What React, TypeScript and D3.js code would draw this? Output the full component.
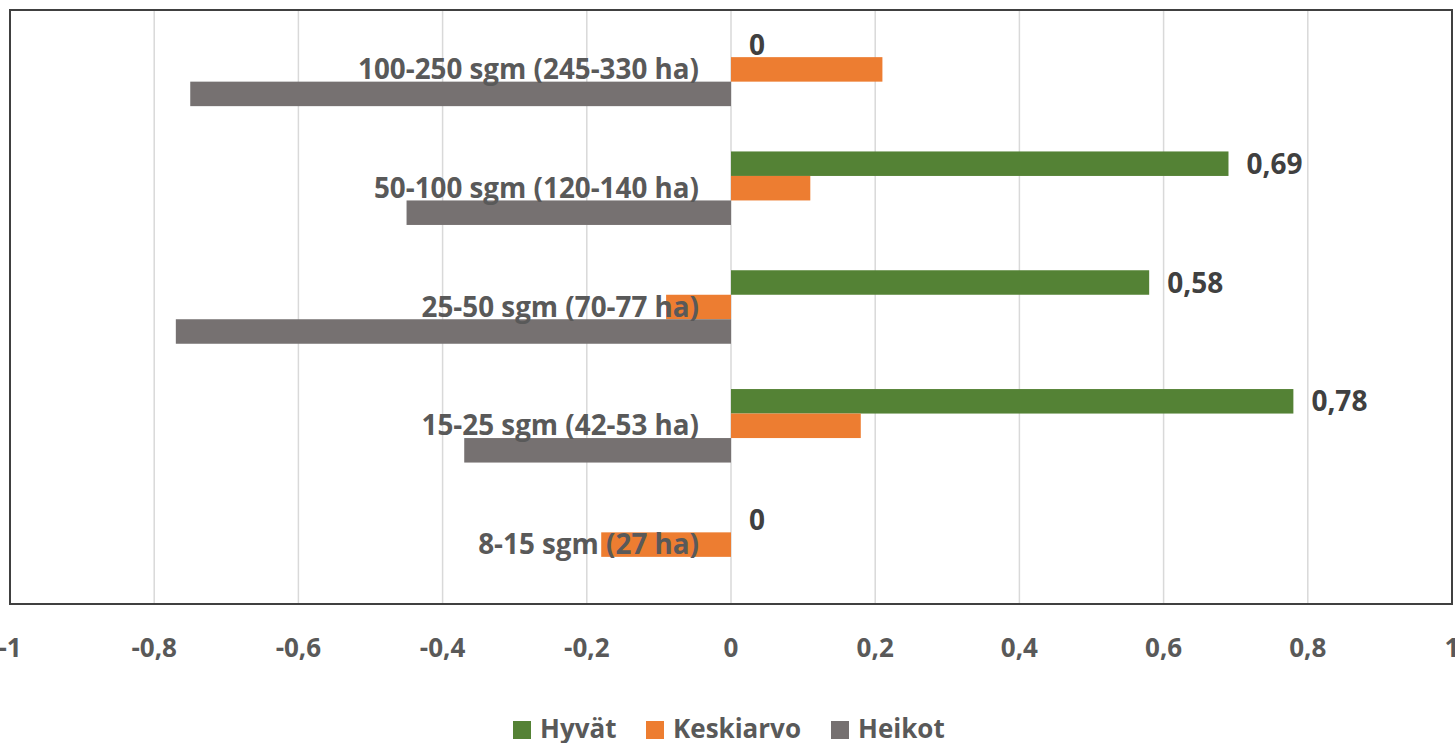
import React from "react";
import * as d3 from "d3";

const categories = [
  "100-250 sgm (245-330 ha)",
  "50-100 sgm (120-140 ha)",
  "25-50 sgm (70-77 ha)",
  "15-25 sgm (42-53 ha)",
  "8-15 sgm (27 ha)",
];
const seriesNames = ["Hyvät", "Keskiarvo", "Heikot"];
const hyvat = [0, 0.69, 0.58, 0.78, 0];
const keskiarvo = [0.21, 0.11, -0.09, 0.18, -0.18];
const heikot = [-0.75, -0.45, -0.77, -0.37, 0];
const xTicks = [-1, -0.8, -0.6, -0.4, -0.2, 0, 0.2, 0.4, 0.6, 0.8, 1];
const colors = ["#548235", "#ED7D31", "#767171"];
const showLabels = [true, false, false];

const W = 1455;
const H = 743;
const plot = { left: 10, right: 1452, top: 10, bottom: 604 };
const FONT = "'Open Sans', 'Liberation Sans', sans-serif";

export default function App() {
  const x = d3.scaleLinear().domain([-1, 1]).range([plot.left, plot.right]);
  const y = d3
    .scaleBand<string>()
    .domain(categories)
    .range([plot.top, plot.bottom])
    .paddingInner(0)
    .paddingOuter(0);
  const series = [hyvat, keskiarvo, heikot];
  const band = y.bandwidth();
  const barH = 24.5;
  const groupH = barH * 3;
  const fmt = (v: number) => String(v).replace(".", ",");

  return (
    <svg
      width={W}
      height={H}
      style={{ position: "absolute", left: 0, top: 0, background: "#fff" }}
      fontFamily={FONT}
    >
      {xTicks.map((t) => (
        <line
          key={"g" + t}
          x1={x(t)}
          x2={x(t)}
          y1={plot.top}
          y2={plot.bottom}
          stroke="#D9D9D9"
          strokeWidth={1.5}
        />
      ))}
      {categories.map((c, ci) => {
        const y0 = (y(c) as number) + (band - groupH) / 2;
        return series.map((s, si) => {
          const v = s[ci];
          if (v === 0) return null;
          return (
            <rect
              key={c + si}
              x={Math.min(x(0), x(v))}
              width={Math.abs(x(v) - x(0))}
              y={y0 + si * barH}
              height={barH}
              fill={colors[si]}
            />
          );
        });
      })}
      {categories.map((c, ci) => {
        const y0 = (y(c) as number) + (band - groupH) / 2;
        return series.map((s, si) => {
          if (!showLabels[si]) return null;
          const v = s[ci];
          return (
            <text
              key={"l" + c + si}
              x={x(v) + 18}
              y={y0 + si * barH + barH / 2 + 10}
              fontSize={28}
              fontWeight="bold"
              fill="#404040"
            >
              {fmt(v)}
            </text>
          );
        });
      })}
      {categories.map((c) => (
        <text
          key={"c" + c}
          x={x(0) - 32}
          y={(y(c) as number) + band / 2 + 9.5}
          textAnchor="end"
          fontSize={27.8}
          fontWeight="bold"
          fill="#595959"
        >
          {c}
        </text>
      ))}
      <rect
        x={plot.left}
        y={plot.top}
        width={plot.right - plot.left}
        height={plot.bottom - plot.top}
        fill="none"
        stroke="#404040"
        strokeWidth={2}
      />
      {xTicks.map((t) => (
        <text
          key={"t" + t}
          x={x(t)}
          y={657}
          textAnchor="middle"
          fontSize={26}
          fontWeight="bold"
          fill="#595959"
        >
          {fmt(t)}
        </text>
      ))}
      {[
        { name: seriesNames[0], sx: 513, tx: 540 },
        { name: seriesNames[1], sx: 646, tx: 673 },
        { name: seriesNames[2], sx: 831, tx: 858 },
      ].map((l, i) => (
        <g key={"leg" + i}>
          <rect x={l.sx} y={721} width={18} height={18} fill={colors[i]} />
          <text x={l.tx} y={738} fontSize={26} fontWeight="bold" fill="#595959">
            {l.name}
          </text>
        </g>
      ))}
    </svg>
  );
}
